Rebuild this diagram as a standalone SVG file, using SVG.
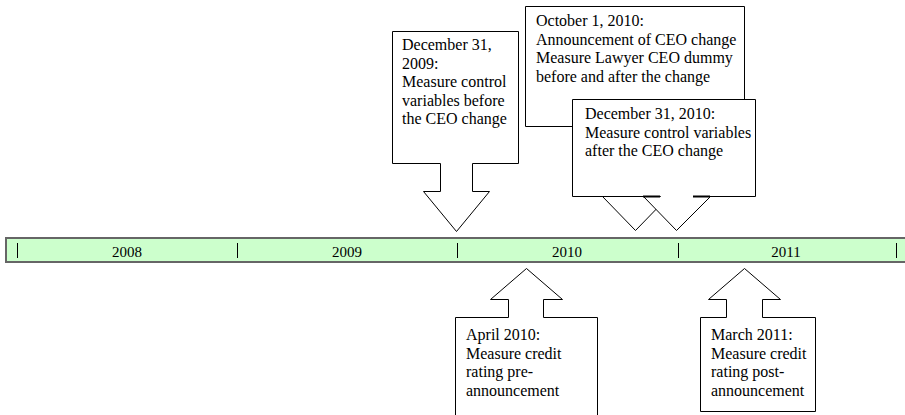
<svg xmlns="http://www.w3.org/2000/svg" width="905" height="415" viewBox="0 0 905 415">
  <style>
    .shape { fill: #ffffff; stroke: #000000; stroke-width: 1; }
    .t { font-family: "Liberation Serif", "Times New Roman", serif; font-size: 16px; fill: #000000; }
    .yr { font-family: "Liberation Serif", "Times New Roman", serif; font-size: 15px; fill: #000000; text-anchor: middle; }
    .tick { stroke: #000000; stroke-width: 1; }
  </style>
  <rect width="905" height="415" fill="#ffffff"/>
  <g id="timeline">
    <rect x="6" y="238" width="905" height="24" fill="#ccffcc" stroke="#666666" stroke-width="2"/>
    <line class="tick" x1="17.5" y1="243" x2="17.5" y2="258"/>
    <line class="tick" x1="237.5" y1="243" x2="237.5" y2="258"/>
    <line class="tick" x1="457.5" y1="243" x2="457.5" y2="258"/>
    <line class="tick" x1="678.5" y1="243" x2="678.5" y2="258"/>
    <line class="tick" x1="896.5" y1="243" x2="896.5" y2="258"/>
    <text class="yr" x="127" y="257">2008</text>
    <text class="yr" x="347" y="257">2009</text>
    <text class="yr" x="567" y="257">2010</text>
    <text class="yr" x="786" y="257">2011</text>
  </g>
  <g id="connectors"></g>
  <g id="node-dec2009">
    <path class="shape" d="M392.5,31.5 H518.5 V163.5 H472.5 V191.5 H489.5 L456.5,231.5 L423.5,191.5 H440.5 V163.5 H392.5 Z"/>
    <text class="t" x="402" y="50">December 31,</text>
    <text class="t" x="402" y="68.5">2009:</text>
    <text class="t" x="402" y="87">Measure control</text>
    <text class="t" x="402" y="105.5">variables before</text>
    <text class="t" x="402" y="124">the CEO change</text>
  </g>
  <g id="node-oct2010">
    <path class="shape" d="M525.5,6.5 H744.5 V126.5 H651.5 V196.5 H668.5 L635.5,230.5 L602.5,196.5 H619.5 V126.5 H525.5 Z"/>
    <text class="t" x="536" y="26">October 1, 2010:</text>
    <text class="t" x="536" y="44.5">Announcement of CEO change</text>
    <text class="t" x="536" y="63">Measure Lawyer CEO dummy</text>
    <text class="t" x="536" y="81.5">before and after the change</text>
  </g>
  <g id="node-dec2010">
    <path class="shape" d="M572.5,99.5 H755.5 V196.5 H693.5 H710.5 L676.5,230.5 L643.5,196.5 H660.5 H572.5 Z"/>
    <line x1="643" y1="196.5" x2="660" y2="196.5" stroke="#000000" stroke-width="2"/>
    <line x1="693" y1="196.5" x2="710" y2="196.5" stroke="#000000" stroke-width="2"/>
    <text class="t" x="585" y="119">December 31, 2010:</text>
    <text class="t" x="585" y="137.5">Measure control variables</text>
    <text class="t" x="585" y="156">after the CEO change</text>
  </g>
  <g id="node-apr2010">
    <path class="shape" d="M455.5,317.5 H508.5 V299.5 H490.5 L526.5,268.5 L562.5,299.5 H543.5 V317.5 H597.5 V420 H455.5 Z"/>
    <text class="t" x="466" y="340">April 2010:</text>
    <text class="t" x="466" y="358.5">Measure credit</text>
    <text class="t" x="466" y="377">rating pre-</text>
    <text class="t" x="466" y="395.5">announcement</text>
  </g>
  <g id="node-mar2011">
    <path class="shape" d="M700.5,317.5 H726.5 V299.5 H708.5 L744.5,268.5 L780.5,299.5 H762.5 V317.5 H815.5 V411.5 H700.5 Z"/>
    <text class="t" x="711" y="340">March 2011:</text>
    <text class="t" x="711" y="358.5">Measure credit</text>
    <text class="t" x="711" y="377">rating post-</text>
    <text class="t" x="711" y="395.5">announcement</text>
  </g>
</svg>
